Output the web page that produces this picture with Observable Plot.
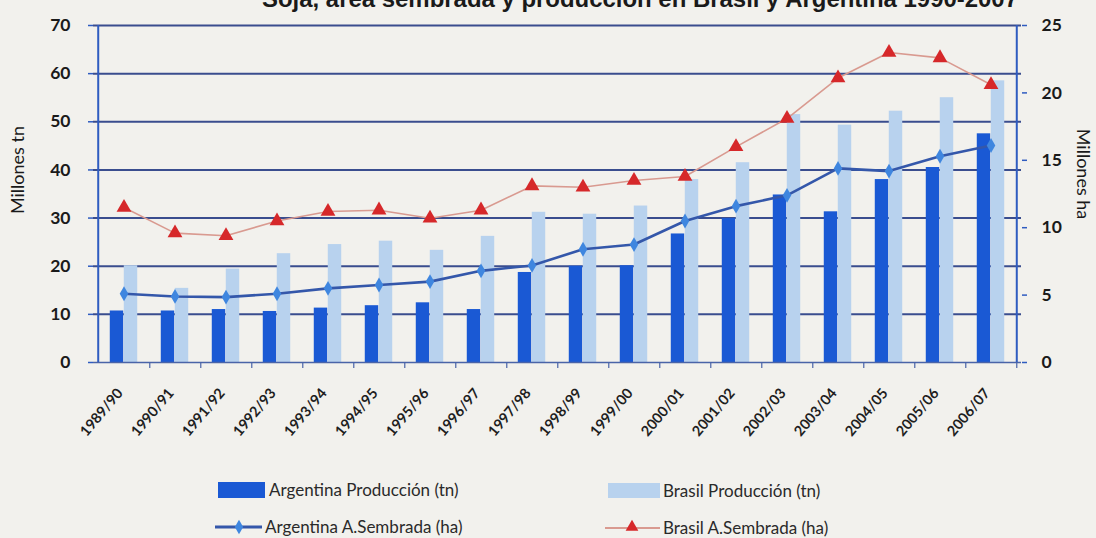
<!DOCTYPE html>
<html><head><meta charset="utf-8">
<script src="https://cdn.jsdelivr.net/npm/d3@7"></script>
<script src="https://cdn.jsdelivr.net/npm/@observablehq/plot@0.6"></script>
<style>
body{margin:0;background:#f2f1ed;}
#wrap{position:relative;width:1096px;height:538px;overflow:hidden;font-family:Lato,"Open Sans",sans-serif;}
#wrap svg.ov{position:absolute;left:0;top:0;pointer-events:none;}
</style></head><body><div id="wrap"></div>
<script>
const categories = ["1989/90","1990/91","1991/92","1992/93","1993/94","1994/95","1995/96","1996/97","1997/98","1998/99","1999/00","2000/01","2001/02","2002/03","2003/04","2004/05","2005/06","2006/07"];
const argentinaProduccion = [10.7,10.7,11.0,10.6,11.3,11.8,12.4,11.0,18.7,20.0,20.1,26.7,29.9,34.8,31.3,38.0,40.5,47.5];
const brasilProduccion = [20.1,15.4,19.4,22.6,24.5,25.2,23.3,26.2,31.2,30.8,32.5,38.0,41.5,51.5,49.3,52.2,55.0,58.5];
const argentinaSembrada = [5.1,4.9,4.85,5.1,5.5,5.75,6.0,6.8,7.2,8.4,8.75,10.5,11.6,12.4,14.4,14.2,15.3,16.1];
const brasilSembrada = [11.5,9.6,9.4,10.5,11.2,11.3,10.7,11.3,13.1,13.0,13.5,13.8,16.0,18.1,21.1,23.0,22.6,20.6];
const leftTicks = [0,10,20,30,40,50,60,70];
const rightTicks = [0,5,10,15,20,25];
const legendLabels = ["Argentina Producción (tn)","Brasil Producción (tn)","Argentina A.Sembrada (ha)","Brasil A.Sembrada (ha)"];
const titleText = "Soja, área sembrada y producción en Brasil y Argentina 1990-2007";

const k = 70/25;
const data = categories.map((c,i)=>({cat:c, ap:argentinaProduccion[i], bp:brasilProduccion[i], as:argentinaSembrada[i]*k, bs:brasilSembrada[i]*k}));

const W=1096, H=460, mL=93, mR=75, mT=25, mB=98;
const bw = (W-mL-mR)/categories.length;
const barW = 14;
const C = {dark:"#1a59d4", light:"#b8d2ee", argLine:"#3457aa", argDot:"#3f86df", braLine:"#d99a90", braDot:"#d6282a", grid:"#3a4d8e", axis:"#2f5cc0"};
const numFont = "Lato, 'Open Sans', sans-serif";

const chart = Plot.plot({
  width:W, height:H, marginTop:mT, marginBottom:mB, marginLeft:mL, marginRight:mR,
  style:{background:"transparent", fontFamily:numFont, overflow:"visible", color:"#1a1a1a"},
  x:{type:"band", domain:categories, padding:0},
  y:{domain:[0,70]},
  marks:[
    Plot.ruleY(leftTicks.filter(d=>d>0), {stroke:C.grid, strokeWidth:2}),
    Plot.barY(data,{x:"cat", y:"ap", fill:C.dark, insetLeft:bw/2-barW, insetRight:bw/2}),
    Plot.barY(data,{x:"cat", y:"bp", fill:C.light, insetLeft:bw/2, insetRight:bw/2-barW}),
    Plot.line(data,{x:"cat", y:"bs", stroke:C.braLine, strokeWidth:1.6}),
    Plot.dot(data,{x:"cat", y:"bs", symbol:"triangle", r:5.5, fill:C.braDot}),
    Plot.line(data,{x:"cat", y:"as", stroke:C.argLine, strokeWidth:2.6}),
    Plot.dot(data,{x:"cat", y:"as", symbol:"diamond", r:4.5, fill:C.argDot}),
    Plot.ruleY([0], {stroke:"#4a64a8", strokeWidth:1.5}),
    Plot.ruleX(categories, {x:d=>d, dx:bw/2, y1:0, y2:-1.25, stroke:"#4a64a8", strokeWidth:1.2}),
    Plot.ruleX([categories[0]], {dx:-bw/2, stroke:C.axis, strokeWidth:2}),
    Plot.ruleX([categories[categories.length-1]], {dx:bw/2, stroke:C.axis, strokeWidth:2}),
    Plot.axisY(leftTicks, {anchor:"left", tickSize:5, tickPadding:18, stroke:C.axis, strokeWidth:1.5, fontSize:17.5, fontWeight:"bold", fontFamily:numFont, label:null}),
    Plot.axisY(rightTicks.map(d=>d*k), {anchor:"right", tickSize:5, tickPadding:15, stroke:C.axis, strokeWidth:1.5, fontSize:17.5, fontWeight:"bold", fontFamily:numFont, tickFormat:d=>String(Math.round(d/k)), label:null}),
    Plot.axisX({tickSize:0, tickRotate:-50, tickPadding:28, dx:-4, fontSize:14.5, fontWeight:"bold", label:null, fill:"#1e1e1e"})
  ]
});
const wrap = document.getElementById("wrap");
wrap.appendChild(chart);

const ov = d3.select(wrap).append("svg").attr("class","ov").attr("width",W).attr("height",538);
ov.append("text").attr("x",640).attr("y",7).attr("text-anchor","middle")
  .attr("font-family","'Liberation Sans', Arial, sans-serif").attr("font-weight","bold").attr("font-size",23)
  .attr("textLength",756).attr("lengthAdjust","spacingAndGlyphs").attr("fill","#1a1a1a").text(titleText);
ov.append("text").attr("transform","translate(24,170) rotate(-90)").attr("text-anchor","middle")
  .attr("font-size",18).attr("fill","#1a1a1a").text("Millones tn");
ov.append("text").attr("transform","translate(1077,174) rotate(90)").attr("text-anchor","middle")
  .attr("font-size",18).attr("fill","#1a1a1a").text("Millones ha");

// legend
const lg = ov.append("g").attr("font-size",17).attr("fill","#2a2a2a");
lg.append("rect").attr("x",218).attr("y",482).attr("width",47).attr("height",16).attr("fill",C.dark);
lg.append("text").attr("x",269).attr("y",496).text(legendLabels[0]);
lg.append("rect").attr("x",608).attr("y",483).attr("width",52).attr("height",15).attr("fill",C.light);
lg.append("text").attr("x",663).attr("y",497).text(legendLabels[1]);
lg.append("line").attr("x1",215).attr("x2",262).attr("y1",527).attr("y2",527).attr("stroke",C.argLine).attr("stroke-width",3);
lg.append("path").attr("d",d3.symbol(d3.symbolDiamond, 60)()).attr("transform","translate(239,527)").attr("fill",C.argDot);
lg.append("text").attr("x",265).attr("y",533).text(legendLabels[2]);
lg.append("line").attr("x1",605).attr("x2",660).attr("y1",528).attr("y2",528).attr("stroke",C.braLine).attr("stroke-width",2);
lg.append("path").attr("d",d3.symbol(d3.symbolTriangle, 70)()).attr("transform","translate(632,527)").attr("fill",C.braDot);
lg.append("text").attr("x",663).attr("y",534).text(legendLabels[3]);
</script></body></html>
